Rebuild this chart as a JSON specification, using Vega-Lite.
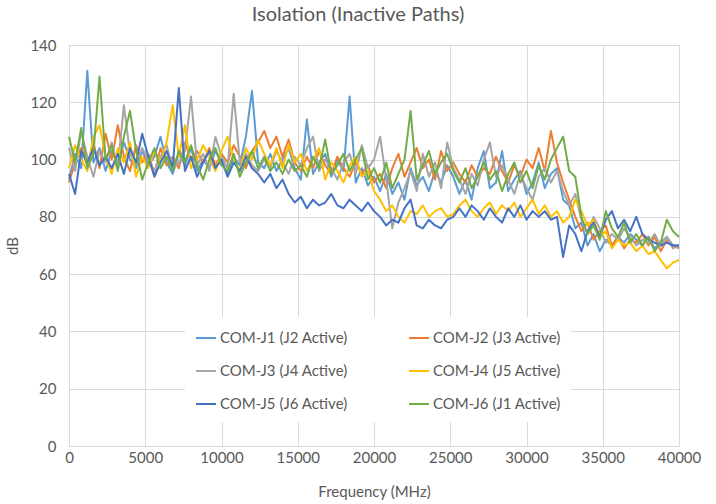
{
  "$schema": "https://vega.github.io/schema/vega-lite/v6.json",
  "autosize": "none",
  "width": 610,
  "height": 401,
  "padding": {"left": 69, "top": 45, "right": 37, "bottom": 58},
  "background": "white",
  "title": {"text": "Isolation (Inactive Paths)", "anchor": "middle", "dx": -16, "offset": 13, "fontSize": 20, "font": "Lato", "fontWeight": "normal", "color": "#595959"},
  "config": {
    "view": {"stroke": null},
    "axis": {"labelFont": "Lato", "titleFont": "Lato", "labelColor": "#595959", "titleColor": "#595959", "labelFontSize": 15, "titleFontSize": 15, "titleFontWeight": "normal", "gridColor": "#D9D9D9", "gridWidth": 1, "ticks": false, "domain": false},
    "legend": {"labelFont": "Lato", "labelFontSize": 15, "labelColor": "#595959"}
  },
  "data": {"values": [
    {"f":0,"a":93,"b":92,"c":104,"d":97,"e":95,"g":108},
    {"f":400,"a":102,"b":99,"c":96,"d":105,"e":88,"g":99},
    {"f":800,"a":97,"b":104,"c":110,"d":100,"e":103,"g":111},
    {"f":1200,"a":131,"b":98,"c":101,"d":96,"e":99,"g":97},
    {"f":1600,"a":99,"b":106,"c":94,"d":108,"e":104,"g":102},
    {"f":2000,"a":104,"b":97,"c":103,"d":112,"e":98,"g":129},
    {"f":2400,"a":96,"b":109,"c":99,"d":101,"e":101,"g":100},
    {"f":2800,"a":103,"b":100,"c":106,"d":95,"e":97,"g":105},
    {"f":3200,"a":99,"b":112,"c":97,"d":104,"e":102,"g":96},
    {"f":3600,"a":106,"b":101,"c":119,"d":99,"e":95,"g":108},
    {"f":4000,"a":100,"b":96,"c":102,"d":106,"e":104,"g":117},
    {"f":4400,"a":97,"b":105,"c":98,"d":94,"e":99,"g":103},
    {"f":4800,"a":103,"b":99,"c":104,"d":101,"e":109,"g":93},
    {"f":5200,"a":98,"b":102,"c":100,"d":97,"e":101,"g":99},
    {"f":5600,"a":101,"b":95,"c":96,"d":103,"e":94,"g":104},
    {"f":6000,"a":108,"b":104,"c":101,"d":99,"e":99,"g":97},
    {"f":6400,"a":99,"b":98,"c":105,"d":106,"e":103,"g":101},
    {"f":6800,"a":95,"b":101,"c":97,"d":119,"e":97,"g":96},
    {"f":7200,"a":102,"b":97,"c":99,"d":101,"e":125,"g":103},
    {"f":7600,"a":98,"b":106,"c":103,"d":112,"e":96,"g":99},
    {"f":8000,"a":104,"b":100,"c":122,"d":97,"e":101,"g":105},
    {"f":8400,"a":96,"b":103,"c":98,"d":100,"e":94,"g":98},
    {"f":8800,"a":100,"b":99,"c":102,"d":105,"e":99,"g":93},
    {"f":9200,"a":97,"b":104,"c":96,"d":101,"e":103,"g":100},
    {"f":9600,"a":103,"b":98,"c":108,"d":96,"e":97,"g":104},
    {"f":10000,"a":99,"b":102,"c":101,"d":103,"e":100,"g":98},
    {"f":10400,"a":95,"b":99,"c":97,"d":108,"e":94,"g":96},
    {"f":10800,"a":101,"b":105,"c":123,"d":100,"e":99,"g":102},
    {"f":11200,"a":98,"b":101,"c":99,"d":96,"e":96,"g":94},
    {"f":11600,"a":108,"b":97,"c":102,"d":104,"e":101,"g":99},
    {"f":12000,"a":124,"b":103,"c":98,"d":100,"e":97,"g":103},
    {"f":12400,"a":99,"b":106,"c":96,"d":107,"e":95,"g":97},
    {"f":12800,"a":97,"b":110,"c":100,"d":102,"e":92,"g":101},
    {"f":13200,"a":102,"b":104,"c":97,"d":98,"e":95,"g":96},
    {"f":13600,"a":96,"b":108,"c":103,"d":104,"e":90,"g":99},
    {"f":14000,"a":100,"b":101,"c":99,"d":97,"e":93,"g":95},
    {"f":14400,"a":104,"b":107,"c":95,"d":105,"e":88,"g":100},
    {"f":14800,"a":97,"b":99,"c":101,"d":99,"e":85,"g":96},
    {"f":15200,"a":93,"b":96,"c":98,"d":102,"e":87,"g":98},
    {"f":15600,"a":114,"b":101,"c":104,"d":96,"e":83,"g":94},
    {"f":16000,"a":95,"b":97,"c":108,"d":100,"e":86,"g":101},
    {"f":16400,"a":99,"b":103,"c":96,"d":104,"e":84,"g":97},
    {"f":16800,"a":102,"b":98,"c":100,"d":93,"e":85,"g":107},
    {"f":17200,"a":94,"b":95,"c":97,"d":99,"e":88,"g":95},
    {"f":17600,"a":100,"b":101,"c":93,"d":96,"e":84,"g":98},
    {"f":18000,"a":96,"b":97,"c":99,"d":92,"e":83,"g":102},
    {"f":18400,"a":122,"b":94,"c":102,"d":98,"e":86,"g":96},
    {"f":18800,"a":92,"b":99,"c":95,"d":101,"e":84,"g":100},
    {"f":19200,"a":97,"b":95,"c":105,"d":94,"e":82,"g":104},
    {"f":19600,"a":91,"b":98,"c":97,"d":96,"e":85,"g":93},
    {"f":20000,"a":94,"b":92,"c":100,"d":89,"e":82,"g":97},
    {"f":20400,"a":89,"b":95,"c":108,"d":86,"e":80,"g":92},
    {"f":20800,"a":95,"b":90,"c":93,"d":82,"e":77,"g":99},
    {"f":21200,"a":88,"b":97,"c":76,"d":84,"e":79,"g":90},
    {"f":21600,"a":92,"b":102,"c":85,"d":80,"e":78,"g":95},
    {"f":22000,"a":86,"b":94,"c":90,"d":78,"e":83,"g":100},
    {"f":22400,"a":97,"b":99,"c":96,"d":82,"e":86,"g":117},
    {"f":22800,"a":91,"b":104,"c":89,"d":81,"e":77,"g":93},
    {"f":23200,"a":94,"b":97,"c":102,"d":84,"e":76,"g":98},
    {"f":23600,"a":89,"b":100,"c":94,"d":80,"e":79,"g":103},
    {"f":24000,"a":96,"b":93,"c":99,"d":82,"e":77,"g":95},
    {"f":24400,"a":92,"b":103,"c":90,"d":83,"e":76,"g":99},
    {"f":24800,"a":98,"b":96,"c":106,"d":80,"e":79,"g":102},
    {"f":25200,"a":94,"b":99,"c":97,"d":81,"e":80,"g":96},
    {"f":25600,"a":88,"b":95,"c":93,"d":84,"e":83,"g":92},
    {"f":26000,"a":93,"b":92,"c":88,"d":86,"e":80,"g":97},
    {"f":26400,"a":86,"b":98,"c":95,"d":82,"e":84,"g":90},
    {"f":26800,"a":97,"b":94,"c":91,"d":80,"e":82,"g":94},
    {"f":27200,"a":103,"b":97,"c":100,"d":83,"e":79,"g":99},
    {"f":27600,"a":90,"b":95,"c":106,"d":85,"e":83,"g":93},
    {"f":28000,"a":92,"b":101,"c":94,"d":81,"e":80,"g":96},
    {"f":28400,"a":103,"b":96,"c":98,"d":84,"e":78,"g":89},
    {"f":28800,"a":89,"b":92,"c":93,"d":82,"e":83,"g":95},
    {"f":29200,"a":93,"b":98,"c":88,"d":85,"e":80,"g":99},
    {"f":29600,"a":96,"b":94,"c":95,"d":80,"e":84,"g":92},
    {"f":30000,"a":88,"b":100,"c":90,"d":83,"e":79,"g":96},
    {"f":30400,"a":92,"b":97,"c":86,"d":86,"e":82,"g":90},
    {"f":30800,"a":99,"b":104,"c":94,"d":81,"e":80,"g":98},
    {"f":31200,"a":90,"b":96,"c":97,"d":84,"e":82,"g":93},
    {"f":31600,"a":95,"b":110,"c":92,"d":80,"e":79,"g":100},
    {"f":32000,"a":97,"b":99,"c":96,"d":82,"e":80,"g":104},
    {"f":32400,"a":86,"b":92,"c":89,"d":78,"e":66,"g":108},
    {"f":32800,"a":84,"b":86,"c":84,"d":80,"e":77,"g":96},
    {"f":33200,"a":76,"b":80,"c":88,"d":86,"e":74,"g":94},
    {"f":33600,"a":78,"b":75,"c":79,"d":82,"e":68,"g":80},
    {"f":34000,"a":70,"b":78,"c":74,"d":77,"e":75,"g":74},
    {"f":34400,"a":74,"b":72,"c":80,"d":79,"e":78,"g":77},
    {"f":34800,"a":68,"b":75,"c":76,"d":73,"e":73,"g":72},
    {"f":35200,"a":72,"b":77,"c":71,"d":75,"e":79,"g":82},
    {"f":35600,"a":70,"b":70,"c":74,"d":69,"e":82,"g":76},
    {"f":36000,"a":73,"b":73,"c":72,"d":72,"e":76,"g":73},
    {"f":36400,"a":71,"b":69,"c":76,"d":70,"e":79,"g":78},
    {"f":36800,"a":74,"b":72,"c":73,"d":71,"e":75,"g":71},
    {"f":37200,"a":72,"b":71,"c":70,"d":68,"e":80,"g":74},
    {"f":37600,"a":70,"b":74,"c":72,"d":70,"e":74,"g":70},
    {"f":38000,"a":73,"b":70,"c":71,"d":67,"e":72,"g":73},
    {"f":38400,"a":69,"b":73,"c":74,"d":68,"e":71,"g":68},
    {"f":38800,"a":71,"b":68,"c":70,"d":65,"e":70,"g":71},
    {"f":39200,"a":73,"b":72,"c":73,"d":62,"e":71,"g":79},
    {"f":39600,"a":70,"b":70,"c":69,"d":64,"e":70,"g":75},
    {"f":40000,"a":70,"b":69,"c":70,"d":65,"e":70,"g":73}
  ]},
  "transform": [{"fold": ["a", "b", "c", "d", "e", "g"], "as": ["s", "dB"]}],
  "mark": {"type": "line", "strokeWidth": 2, "strokeJoin": "round"},
  "encoding": {
    "x": {"field": "f", "type": "quantitative", "title": "Frequency (MHz)", "scale": {"domain": [0, 40000], "nice": false}, "axis": {"values": [0,5000,10000,15000,20000,25000,30000,35000,40000], "format": "d", "labelPadding": 4, "titlePadding": 19, "domain": true, "domainColor": "#D9D9D9", "labelFlush": false}},
    "y": {"field": "dB", "type": "quantitative", "title": "dB", "scale": {"domain": [0, 140], "nice": false}, "axis": {"values": [0,20,40,60,80,100,120,140], "labelPadding": 13, "titlePadding": 9}},
    "color": {"field": "s", "type": "nominal", "scale": {"domain": ["a", "b", "c", "d", "e", "g"], "range": ["#5B9BD5", "#ED7D31", "#A5A5A5", "#FFC000", "#4472C4", "#70AD47"]},
      "legend": {"title": null, "orient": "none", "legendX": 116, "legendY": 272, "columns": 2, "direction": "horizontal", "columnPadding": 57, "rowPadding": 14, "padding": 10, "fillColor": "white", "symbolType": "stroke", "symbolSize": 400, "symbolStrokeWidth": 2, "labelOffset": 3, "labelLimit": 300,
        "labelExpr": "['COM-J1 (J2 Active)','COM-J2 (J3 Active)','COM-J3 (J4 Active)','COM-J4 (J5 Active)','COM-J5 (J6 Active)','COM-J6 (J1 Active)'][indexof(['a','b','c','d','e','g'], datum.value)]"}}
  }
}
